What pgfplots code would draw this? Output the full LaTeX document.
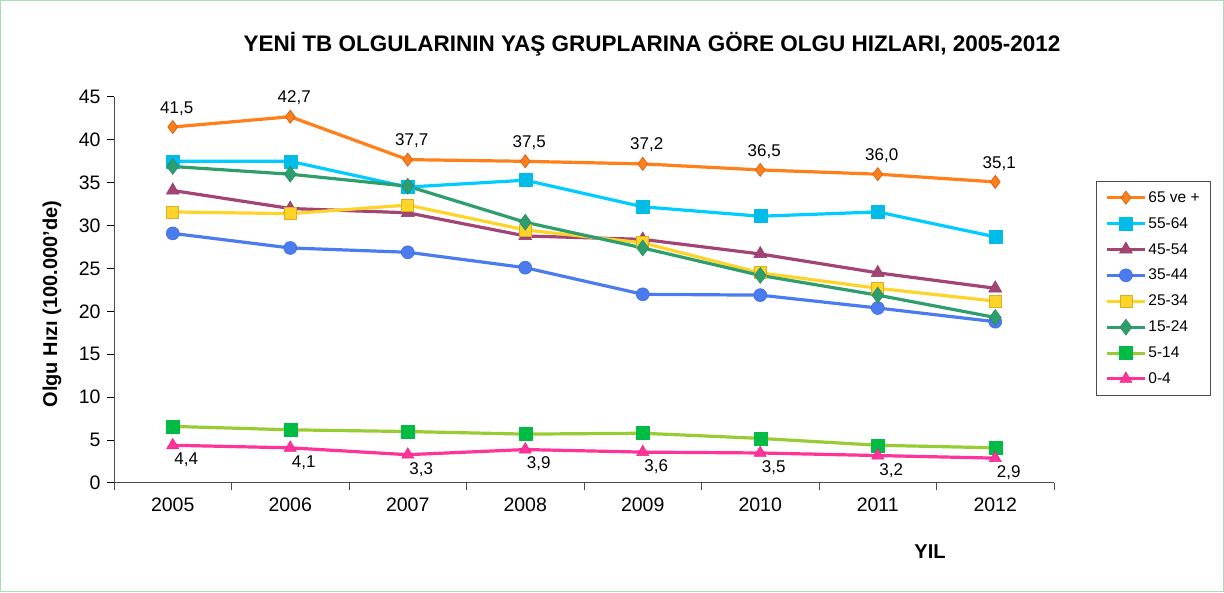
\documentclass[border=0pt]{standalone}
\usepackage{pgfplots}
\pgfplotsset{compat=1.18}
\usepackage{pgfplotstable}
\usepackage{fontspec}
\setmainfont{Liberation Sans}
\definecolor{cOr}{HTML}{FF7F1A}
\definecolor{cOrD}{HTML}{D8661A}
\definecolor{cCy}{HTML}{00CCFF}
\definecolor{cCyD}{HTML}{00BCE6}
\definecolor{cPl}{HTML}{A34475}
\definecolor{cPlD}{HTML}{8E3A66}
\definecolor{cBl}{HTML}{4A7CF0}
\definecolor{cBlD}{HTML}{3A68D8}
\definecolor{cYe}{HTML}{FFD42A}
\definecolor{cYeD}{HTML}{D9B020}
\definecolor{cTe}{HTML}{2E9E6E}
\definecolor{cTeD}{HTML}{2A8A60}
\definecolor{cYg}{HTML}{99CC33}
\definecolor{cGr}{HTML}{00BB44}
\definecolor{cPk}{HTML}{FF3399}
\definecolor{cPkD}{HTML}{E02A85}
\definecolor{cFrame}{HTML}{A8DDB5}

\pgfplotstableread{
x y lab
0 41.5 {41,5}
1 42.7 {42,7}
2 37.7 {37,7}
3 37.5 {37,5}
4 37.2 {37,2}
5 36.5 {36,5}
6 36.0 {36,0}
7 35.1 {35,1}
}\tabA
\pgfplotstableread{
x y
0 37.5
1 37.5
2 34.5
3 35.3
4 32.2
5 31.1
6 31.6
7 28.7
}\tabB
\pgfplotstableread{
x y
0 34.1
1 32.0
2 31.5
3 28.8
4 28.4
5 26.7
6 24.5
7 22.7
}\tabC
\pgfplotstableread{
x y
0 29.1
1 27.4
2 26.9
3 25.1
4 22.0
5 21.9
6 20.4
7 18.8
}\tabD
\pgfplotstableread{
x y
0 31.6
1 31.4
2 32.4
3 29.5
4 28.0
5 24.5
6 22.7
7 21.2
}\tabE
\pgfplotstableread{
x y
0 36.9
1 36.0
2 34.6
3 30.4
4 27.4
5 24.2
6 21.9
7 19.3
}\tabF
\pgfplotstableread{
x y
0 6.6
1 6.2
2 6.0
3 5.7
4 5.8
5 5.2
6 4.4
7 4.1
}\tabG
\pgfplotstableread{
x y lab
0 4.4 {4,4}
1 4.1 {4,1}
2 3.3 {3,3}
3 3.9 {3,9}
4 3.6 {3,6}
5 3.5 {3,5}
6 3.2 {3,2}
7 2.9 {2,9}
}\tabH

\begin{document}
\begin{tikzpicture}[x=1pt,y=1pt]
\draw[cFrame, line width=1pt] (0.5,0.5) rectangle (1223.5,591.5);
\node[font=\bfseries\fontsize{22.5}{26}\selectfont] at (652,548) {YENİ TB OLGULARININ YAŞ GRUPLARINA GÖRE OLGU HIZLARI, 2005-2012};
\node[font=\bfseries\fontsize{20}{24}\selectfont] at (930,40) {YIL};
\node[font=\bfseries\fontsize{20}{24}\selectfont, rotate=90] at (52,288) {Olgu Hızı (100.000'de)};
\begin{axis}[
  at={(114pt,109pt)}, anchor=south west,
  scale only axis, width=940pt, height=386pt,
  xmin=-0.5, xmax=7.5, ymin=0, ymax=45,
  axis x line=bottom, axis y line=left,
  axis line style={-, line width=1pt, draw=black!70},
  xtick={0,...,7},
  xticklabels={2005,2006,2007,2008,2009,2010,2011,2012},
  major x tick style={draw=none},
  minor xtick={-0.5,0.5,...,7.5},
  minor x tick style={line width=1pt, draw=black!70},
  minor tick length=7pt,
  ytick={0,5,...,45},
  y tick style={line width=1pt, draw=black},
  major tick length=7pt,
  tick align=outside,
  ticklabel style={font=\fontsize{19.5}{22}\selectfont},
  /pgf/number format/assume math mode=true,
  xticklabel style={yshift=-4pt},
  yticklabel style={xshift=-3pt},
  every axis plot/.append style={line width=3.2pt},
  legend style={at={(rel axis cs:1.0447,0.782)}, anchor=north west,
    draw=black!70, line width=0.8pt, font=\fontsize{15.5}{18}\selectfont,
    row sep=9.6pt, inner xsep=9pt, inner ysep=8pt},
  legend cell align=left,
  legend image code/.code={\draw[line width=3pt,mark repeat=2,mark phase=2] plot coordinates {(0pt,0pt) (19pt,0pt) (38pt,0pt)};},
  clip=false,
]
\addplot[cOr, mark=diamond*, mark size=6.5pt, mark options={fill=cOr, draw=cOrD, line width=0.8pt},
  point meta=explicit symbolic, nodes near coords,
  every node near coord/.append style={font=\fontsize{17}{20}\selectfont, text=black, anchor=south, yshift=8pt, xshift=4pt}]
  table[x=x,y=y,meta=lab]{\tabA};
\addlegendentry{65 ve +}
\addplot[cCy, mark=square*, mark size=6.5pt, mark options={fill=cCyD, draw=cCyD, line width=0.5pt}] table[x=x,y=y]{\tabB};
\addlegendentry{55-64}
\addplot[cPl, mark=triangle*, mark size=7.5pt, mark options={fill=cPl, draw=cPlD, line width=0.5pt}] table[x=x,y=y]{\tabC};
\addlegendentry{45-54}
\addplot[cBl, mark=*, mark size=6.5pt, mark options={fill=cBl, draw=cBlD, line width=0.5pt}] table[x=x,y=y]{\tabD};
\addlegendentry{35-44}
\addplot[cYe, mark=square*, mark size=6pt, mark options={fill=cYe, draw=cYeD, line width=0.8pt}] table[x=x,y=y]{\tabE};
\addlegendentry{25-34}
\addplot[cTe, mark=diamond*, mark size=8pt, mark options={fill=cTe, draw=cTeD, line width=0.5pt}] table[x=x,y=y]{\tabF};
\addlegendentry{15-24}
\addplot[cYg, mark=square*, mark size=6.5pt, mark options={fill=cGr, draw=cGr, line width=0.5pt}] table[x=x,y=y]{\tabG};
\addlegendentry{5-14}
\addplot[cPk, mark=triangle*, mark size=7pt, mark options={fill=cPk, draw=cPkD, line width=0.5pt},
  point meta=explicit symbolic, nodes near coords,
  every node near coord/.append style={font=\fontsize{17}{20}\selectfont, text=black, anchor=north west, yshift=-4pt, xshift=-2pt}]
  table[x=x,y=y,meta=lab]{\tabH};
\addlegendentry{0-4}
\end{axis}
\end{tikzpicture}
\end{document}
